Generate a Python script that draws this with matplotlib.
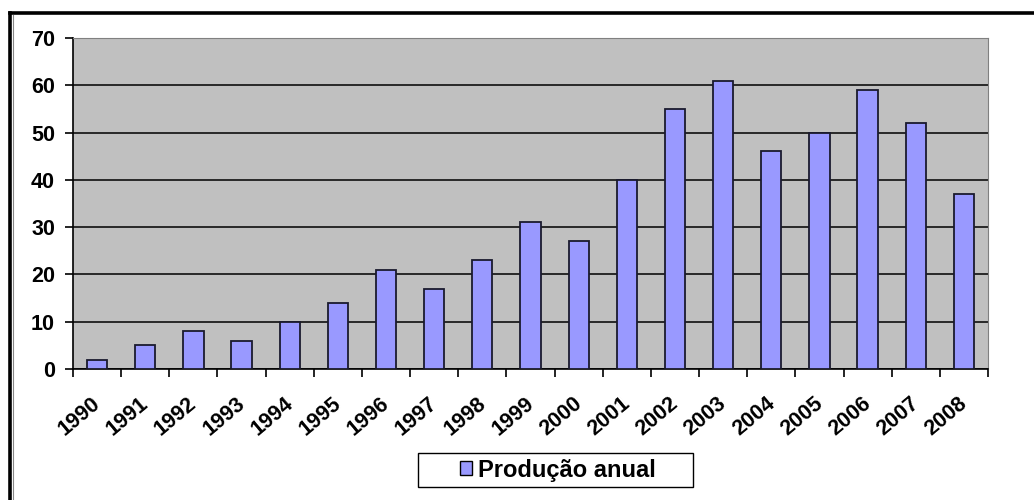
import matplotlib
matplotlib.use("Agg")
import matplotlib.pyplot as plt
import matplotlib.transforms as mtransforms
from matplotlib.patches import Rectangle, Patch
from matplotlib.lines import Line2D

plt.rcParams['font.family'] = ['Liberation Sans', 'DejaVu Sans']

years = ["1990", "1991", "1992", "1993", "1994", "1995", "1996", "1997", "1998",
         "1999", "2000", "2001", "2002", "2003", "2004", "2005", "2006", "2007", "2008"]
producao = [2, 5, 8, 6, 10, 14, 21, 17, 23, 31, 27, 40, 55, 61, 46, 50, 59, 52, 37]
y_ticks = [0, 10, 20, 30, 40, 50, 60, 70]
serie_label = "Produção anual"

bar_color = "#9999FF"
plot_bg = "#C0C0C0"

fig = plt.figure(figsize=(10.34, 5.0), dpi=100)
ax = fig.add_axes([73 / 1034, 1 - 369 / 500, 915 / 1034, 331 / 500])
ax.set_facecolor(plot_bg)

x = list(range(len(years)))
ax.bar(x, producao, width=0.42, color=bar_color, edgecolor="#1a1a2e",
       linewidth=1.3, zorder=3)

ax.set_xlim(-0.5, len(years) - 0.5)
ax.set_ylim(0, 70)
ax.set_yticks(y_ticks)
ax.set_yticklabels([str(v) for v in y_ticks], fontsize=15.5, fontweight="bold")
ax.yaxis.grid(True, color="black", linewidth=1.1, zorder=1)
ax.set_axisbelow(True)

# category boundaries carry the tick marks, labels sit under each bar
ax.set_xticks([i - 0.5 for i in range(len(years) + 1)])
ax.set_xticklabels([])
ax.set_xticks(x, minor=True)
ax.set_xticklabels(years, minor=True, rotation=40, ha="right", va="top",
                   rotation_mode="anchor", fontsize=15.5, fontweight="bold")
ax.tick_params(axis="x", which="minor", length=0, pad=13)
ax.tick_params(axis="x", which="major", length=6, width=1.2, color="black")
ax.tick_params(axis="y", length=6, width=1.2, color="black", pad=7)

shift = mtransforms.ScaledTranslation(-6 / 100, -6 / 100, fig.dpi_scale_trans)
for lbl in ax.get_xticklabels(minor=True):
    lbl.set_transform(lbl.get_transform() + shift)

ax.spines["left"].set_color("black")
ax.spines["left"].set_linewidth(1.2)
ax.spines["bottom"].set_color("black")
ax.spines["bottom"].set_linewidth(1.2)
ax.spines["top"].set_color("#808080")
ax.spines["right"].set_color("#808080")

# outer chart frame (top and left edges)
fig.add_artist(Line2D([10 / 1034, 1.0], [1 - 13 / 500, 1 - 13 / 500],
                      transform=fig.transFigure, color="black", linewidth=2.6))
fig.add_artist(Line2D([10 / 1034, 10 / 1034], [0.0, 1 - 13 / 500],
                      transform=fig.transFigure, color="black", linewidth=2.6))
fig.add_artist(Line2D([12.5 / 1034, 12.5 / 1034], [0.0, 1 - 15 / 500],
                      transform=fig.transFigure, color="#888888", linewidth=0.8))

# legend box
fig.add_artist(Rectangle((418 / 1034, 1 - 487 / 500), 275 / 1034, 34 / 500,
                         transform=fig.transFigure, facecolor="white",
                         edgecolor="black", linewidth=1.0))
handle = Patch(facecolor=bar_color, edgecolor="black", linewidth=1.0)
fig.legend([handle], [serie_label], loc="center",
           bbox_to_anchor=(558 / 1034, 1 - 470 / 500), frameon=False,
           prop={"size": 17, "weight": "bold"}, handlelength=0.5,
           handleheight=0.5, handletextpad=0.25, borderpad=0)

fig.savefig("out.png", dpi=100)
